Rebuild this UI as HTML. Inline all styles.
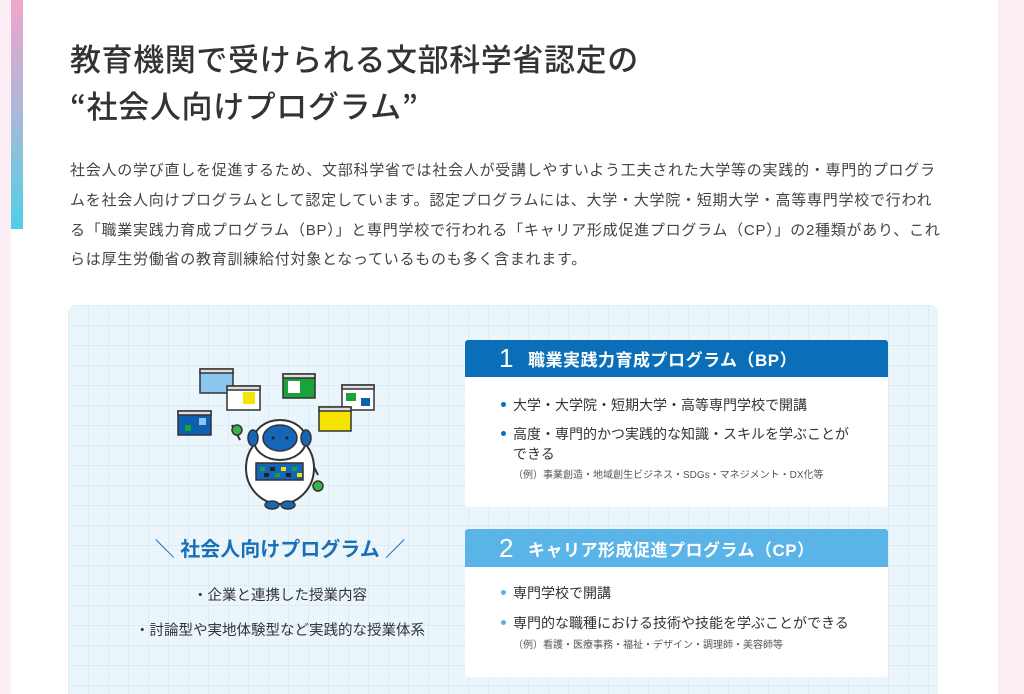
<!DOCTYPE html>
<html style="width:1024px;height:694px;overflow:hidden"><head><meta charset="utf-8"><style>
*{margin:0;padding:0;box-sizing:border-box}
body{width:1024px;height:694px;overflow:hidden;background:#fff;font-family:"Liberation Sans","Noto Sans CJK JP",sans-serif;color:#333;position:relative}
.abs{position:absolute}
.h1{left:70px;font-size:31px;font-weight:500;color:#333;white-space:nowrap;letter-spacing:0.6px}
.q{font-family:"Noto Sans CJK JP",sans-serif}
.p{left:70px;top:156px;width:900px;font-size:15px;line-height:29.8px;color:#444;letter-spacing:0.75px;white-space:nowrap}
.panel{left:68px;top:305px;width:870px;height:400px;border-radius:8px;background-color:#ebf6fc;
background-image:linear-gradient(#dcecf5 1px,transparent 1px),linear-gradient(90deg,#dcecf5 1px,transparent 1px);background-size:20px 20px}
.card{left:465px;width:423px;background:#fff;border-radius:3px;overflow:hidden}
.hd{height:37px;color:#fff;font-weight:bold;font-size:17px;display:flex;align-items:center;padding-left:34px;letter-spacing:0.5px}
.hd b{font-size:26px;font-weight:500;margin-right:14px}
.li{position:relative;padding-left:48px;font-size:14px;color:#333;line-height:20px}
.li:before{content:"";position:absolute;left:36px;top:7px;width:5px;height:5px;border-radius:50%;background:#0a6fb8}
.c2 .li:before{background:#5ab4e8}
.ex{padding-left:48px;font-size:10px;color:#555}
</style></head><body>
<div class="abs" style="left:0;top:0;width:11px;height:694px;background:#fdeef5"></div>
<div class="abs" style="left:11px;top:0;width:12px;height:229px;background:linear-gradient(#f0a6cc,#a9b9d9 50%,#4fd0e4)"></div>
<div class="abs" style="left:998px;top:0;width:26px;height:694px;background:#fdeef5"></div>
<div class="abs h1" style="top:35px">教育機関で受けられる文部科学省認定の</div>
<div class="abs h1" style="top:82px"><span class="q">“</span>社会人向けプログラム<span class="q">”</span></div>
<div class="abs p">社会人の学び直しを促進するため、文部科学省では社会人が受講しやすいよう工夫された大学等の実践的・専門的プログラ<br>ムを社会人向けプログラムとして認定しています。認定プログラムには、大学・大学院・短期大学・高等専門学校で行われ<br>る「職業実践力育成プログラム（BP）」と専門学校で行われる「キャリア形成促進プログラム（CP）」の2種類があり、これ<br>らは厚生労働省の教育訓練給付対象となっているものも多く含まれます。</div>
<div class="abs panel"></div>
<svg class="abs" style="left:160px;top:350px" width="240" height="160" viewBox="0 0 240 160">
<g stroke="#333" stroke-width="1.5">
<rect x="40" y="19" width="33" height="24" fill="#8cc8ee"/><rect x="40" y="19" width="33" height="4" fill="#ddd"/>
<rect x="67" y="36" width="33" height="24" fill="#fff"/><rect x="67" y="36" width="33" height="4" fill="#ddd"/>
<rect x="83" y="42" width="12" height="12" fill="#f5e400" stroke="none"/>
<rect x="123" y="24" width="32" height="24" fill="#1aa33a"/><rect x="123" y="24" width="32" height="4" fill="#ddd"/>
<rect x="128" y="31" width="12" height="12" fill="#fff" stroke="none"/>
<rect x="182" y="35" width="32" height="25" fill="#fff"/><rect x="182" y="35" width="32" height="4" fill="#ddd"/>
<rect x="159" y="57" width="32" height="24" fill="#f5e400"/><rect x="159" y="57" width="32" height="4" fill="#ddd"/>
<rect x="18" y="61" width="33" height="24" fill="#0d5fb0"/><rect x="18" y="61" width="33" height="4" fill="#ddd"/>
<path d="M80 90 L72 75 M106 95 L122 108 M148 105 L158 125" stroke-width="2" fill="none"/>
<ellipse cx="120" cy="118" rx="34" ry="36" fill="#fff" stroke-width="2"/>
<ellipse cx="120" cy="90" rx="26" ry="20" fill="#fff" stroke-width="2"/>
<ellipse cx="120" cy="88" rx="17" ry="13" fill="#1565b8"/>
<ellipse cx="93" cy="88" rx="5" ry="8" fill="#1565b8"/><ellipse cx="146" cy="88" rx="5" ry="8" fill="#1565b8"/>
<rect x="96" y="113" width="47" height="17" fill="#1565b8"/>
<ellipse cx="112" cy="155" rx="7" ry="4" fill="#1565b8"/><ellipse cx="128" cy="155" rx="7" ry="4" fill="#1565b8"/>
<circle cx="77" cy="80" r="5" fill="#3bb34a"/><circle cx="158" cy="136" r="5" fill="#3bb34a"/>
</g>
<rect x="186" y="43" width="10" height="8" fill="#1aa33a"/><rect x="201" y="48" width="9" height="8" fill="#0d5fb0"/>
<rect x="25" y="75" width="6" height="6" fill="#1aa33a"/><rect x="39" y="68" width="7" height="7" fill="#8cc8ee"/>
<rect x="100" y="117" width="5" height="4" fill="#1aa33a"/><rect x="110" y="117" width="5" height="4" fill="#222"/><rect x="121" y="117" width="5" height="4" fill="#f5e400"/><rect x="132" y="117" width="5" height="4" fill="#1aa33a"/>
<rect x="104" y="123" width="5" height="4" fill="#222"/><rect x="115" y="123" width="5" height="4" fill="#1aa33a"/><rect x="126" y="123" width="5" height="4" fill="#222"/><rect x="137" y="123" width="5" height="4" fill="#f5e400"/>
<circle cx="113" cy="88" r="1.5" fill="#222"/><circle cx="127" cy="88" r="1.5" fill="#222"/>
</svg>
<div class="abs" style="left:100px;top:533px;width:360px;text-align:center;font-size:20px;font-weight:bold;color:#1b6fb5;white-space:nowrap">＼ 社会人向けプログラム ／</div>
<div class="abs" style="left:100px;top:584px;width:360px;text-align:center;font-size:14.5px;color:#333">・企業と連携した授業内容</div>
<div class="abs" style="left:100px;top:619px;width:360px;text-align:center;font-size:14.5px;color:#333">・討論型や実地体験型など実践的な授業体系</div>
<div class="abs card" style="top:340px;height:167px">
<div class="hd" style="background:#0a6fb8"><b>1</b>職業実践力育成プログラム（BP）</div>
<div class="li" style="margin-top:18px">大学・大学院・短期大学・高等専門学校で開講</div>
<div class="li" style="margin-top:9px">高度・専門的かつ実践的な知識・スキルを学ぶことが<br>できる</div>
<div class="ex" style="margin-top:2px">（例）事業創造・地域創生ビジネス・SDGs・マネジメント・DX化等</div>
</div>
<div class="abs card c2" style="top:529px;height:148px">
<div class="hd" style="background:#5ab4e8;height:38px"><b>2</b>キャリア形成促進プログラム（CP）</div>
<div class="li" style="margin-top:16px">専門学校で開講</div>
<div class="li" style="margin-top:10px">専門的な職種における技術や技能を学ぶことができる</div>
<div class="ex" style="margin-top:3px">（例）看護・医療事務・福祉・デザイン・調理師・美容師等</div>
</div>
</body></html>
